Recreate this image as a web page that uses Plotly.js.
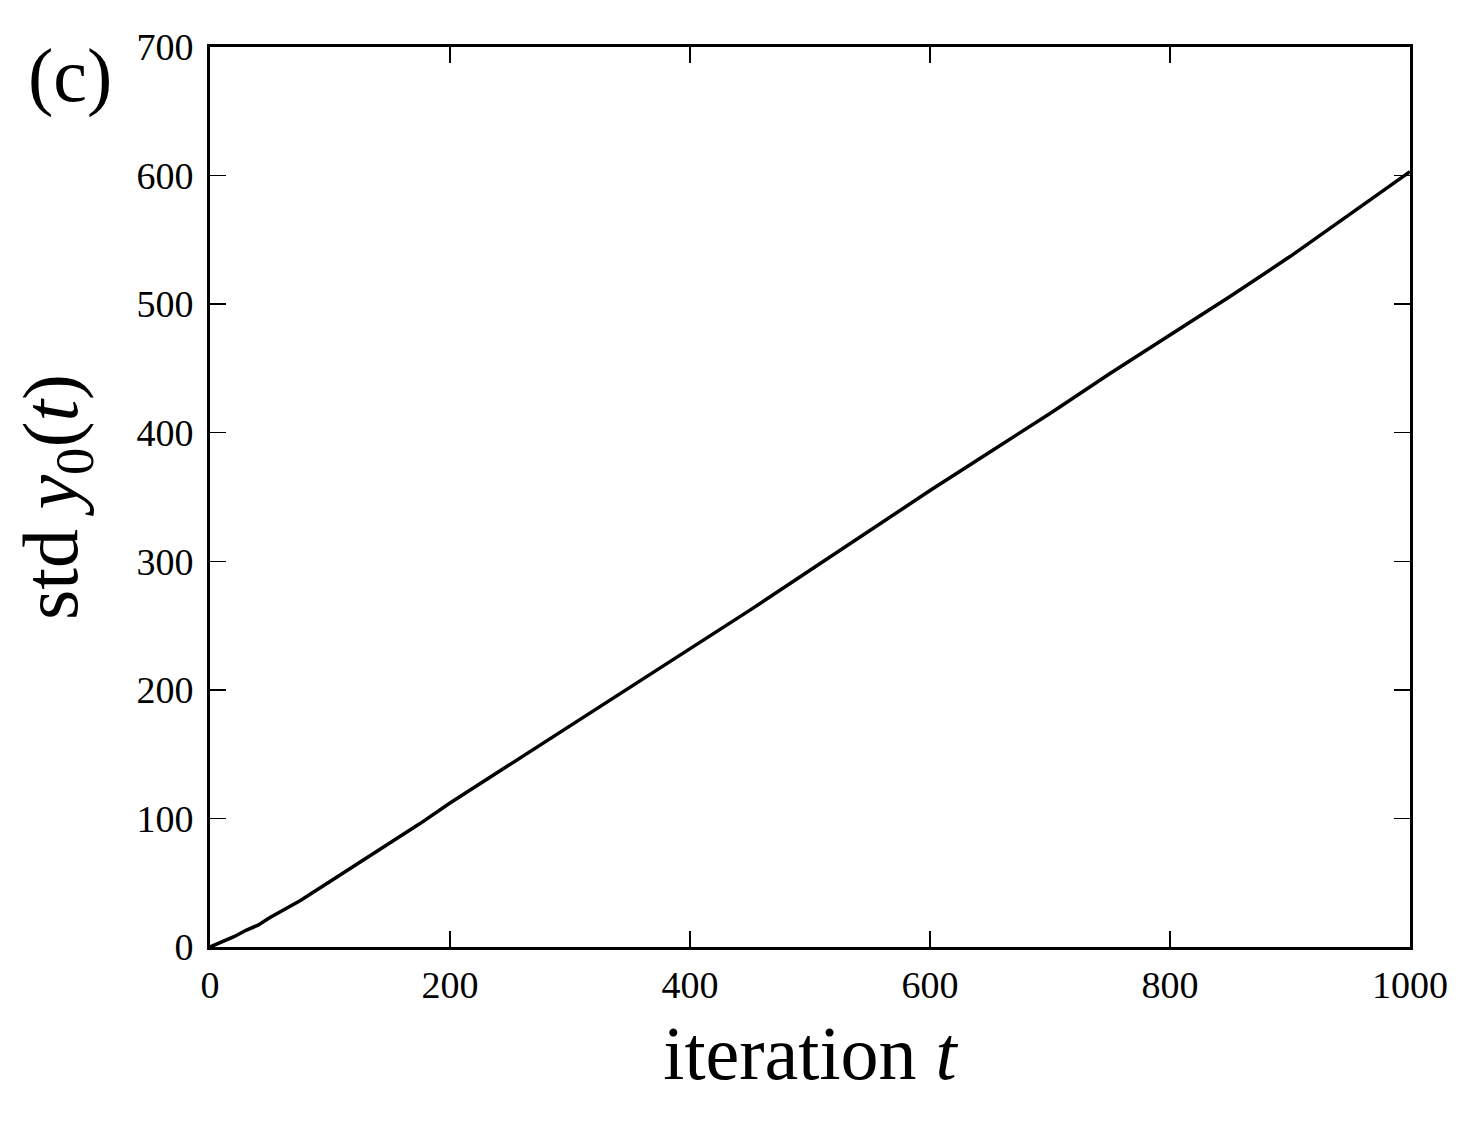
<!DOCTYPE html>
<html>
<head>
<meta charset="utf-8">
<script src="https://cdn.plot.ly/plotly-3.0.1.min.js"></script>
<style>
  html, body { margin: 0; padding: 0; background: #fff; }
  #myPlot { width: 1481px; height: 1123px; }
</style>
</head>
<body>
<div id="myPlot"></div>
<script>
// std of y0 over iterations
const iterations = [0, 10, 20, 30, 40, 50, 75, 100, 125, 150, 175, 200, 250, 300, 350, 400, 450, 500,
  550, 600, 650, 700, 750, 800, 850, 900, 950, 1000];
const stdY0 = [0, 4, 8, 13, 17, 23, 36, 51, 66, 81, 96, 112, 142, 172, 202, 232, 262, 293,
  324, 355, 385, 415, 446, 476, 506, 537, 570, 603];

const xTicks = [0, 200, 400, 600, 800, 1000];
const yTicks = [0, 100, 200, 300, 400, 500, 600, 700];

const serif = "'Liberation Serif', 'Times New Roman', serif";

const data = [{
  x: iterations,
  y: stdY0,
  type: 'scatter',
  mode: 'lines',
  line: {color: '#000', width: 3.5},
  hoverinfo: 'skip'
}];

// matplotlib-ish axes: inside ticks on all four sides
const axisCommon = {
  showgrid: false,
  zeroline: false,
  showline: true,
  linecolor: '#000',
  linewidth: 3,
  mirror: 'ticks',
  ticks: 'inside',
  ticklen: 16,
  tickwidth: 1.5,
  tickcolor: '#000',
  tickfont: {family: serif, size: 38, color: '#000'},
  tickmode: 'array'
};

const layout = {
  width: 1481,
  height: 1123,
  margin: {l: 210, r: 71, t: 47, b: 176},
  paper_bgcolor: '#fff',
  plot_bgcolor: '#fff',
  showlegend: false,
  xaxis: Object.assign({}, axisCommon, {
    range: [0, 1000],
    tickvals: xTicks,
    ticktext: xTicks.map(String),
    ticklabelstandoff: 2,
    title: {text: 'iteration <i>t</i>', font: {family: serif, size: 76, color: '#000'}, standoff: 22}
  }),
  yaxis: Object.assign({}, axisCommon, {
    range: [0, 700],
    tickvals: yTicks,
    ticktext: yTicks.map(String),
    ticklabelstandoff: 6,
    title: {text: 'std <i>y</i><sub>0</sub>(<i>t</i>)', font: {family: serif, size: 78, color: '#000'}, standoff: 34}
  }),
  annotations: [{
    text: '(c)',
    xref: 'paper', yref: 'paper',
    x: -0.117, y: 1.0,
    xanchor: 'center', yanchor: 'middle',
    yshift: -28,
    showarrow: false,
    font: {family: serif, size: 76, color: '#000'}
  }]
};

Plotly.newPlot('myPlot', data, layout, {staticPlot: true, displayModeBar: false});
</script>
</body>
</html>
